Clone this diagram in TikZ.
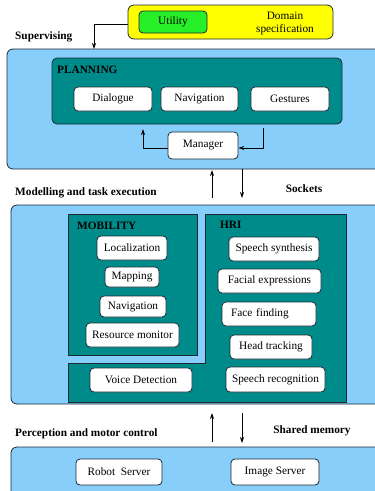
\documentclass[tikz,border=0pt]{standalone}
\usepackage{fontspec}
\setmainfont{Liberation Serif}
\usetikzlibrary{arrows.meta}
\definecolor{lblue}{RGB}{135,206,250}
\definecolor{teal2}{RGB}{0,139,139}
\definecolor{ylw}{RGB}{255,255,0}
\definecolor{grn}{RGB}{40,240,40}
\definecolor{edge}{RGB}{30,40,50}
\begin{document}
\begin{tikzpicture}[x=1pt,y=-1pt,
  every node/.style={font=\fontsize{11.3}{13}\selectfont},
  panel/.style={draw=edge,fill=lblue,rounded corners=6pt,line width=0.8pt},
  group/.style={draw=edge,fill=teal2,line width=0.8pt},
  modbox/.style={draw=edge,fill=white,rounded corners=4pt,line width=0.8pt,inner sep=0pt,align=center},
  lbl/.style={font=\fontsize{11.3}{13}\selectfont\bfseries,anchor=west,inner sep=0pt},
  arr/.style={-{Stealth[length=6pt,width=4pt]},line width=0.8pt}]
\useasboundingbox (0,0) rectangle (375,491);
\clip (0,0) rectangle (375,491);
% top: domain
\draw[draw=edge,fill=ylw,rounded corners=6pt,line width=0.8pt] (128,5) rectangle (333,39);
\node[modbox,fill=grn,minimum width=68pt,minimum height=22pt] (util) at (173,22) {Utility};
\node[inner sep=0pt,align=center] (dom) at (285,23) {Domain\\specification};
\coordinate (domw) at (128,24);
% supervising panel
\draw[panel] (7,49) rectangle (382,169);
\node[lbl] (sup) at (15,37) {Supervising};
\coordinate (supin) at (94,49);
\draw[arr] (domw) -- (94,24) -- (supin);
\draw[group,rounded corners=5pt] (52,58) rectangle (342,124);
\node[lbl] (plan) at (57,70) {PLANNING};
\node[modbox,minimum width=78pt,minimum height=24pt] (dia) at (113,99) {Dialogue};
\node[modbox,minimum width=77pt,minimum height=24pt] (nav) at (199.5,99) {Navigation};
\node[modbox,minimum width=78pt,minimum height=24pt] (ges) at (290,99) {Gestures};
\node[modbox,minimum width=70pt,minimum height=27pt] (man) at (203,145.5) {Manager};
\coordinate (pl2) at (263,128);
\draw[arr] (man.west |- 0,148) -- (143,148) -- (143,129);
\draw[arr] (pl2) -- (263,148) -- (man.east |- 0,148);
% sockets
\node[lbl] (mod) at (15,193) {Modelling and task execution};
\node[font=\fontsize{11.3}{13}\selectfont\bfseries,inner sep=0pt] (sock) at (304,189) {Sockets};
\coordinate (s1a) at (212,198);
\coordinate (s1b) at (212,170);
\coordinate (s2a) at (242,169);
\coordinate (s2b) at (242,198);
\draw[arr] (s1a) -- (s1b);
\draw[arr] (s2a) -- (s2b);
% modelling panel
\draw[panel] (11,205) rectangle (382,404);
\draw[group] (68,214) rectangle (197,355);
\draw[group] (68,363) -- (205,363) -- (205,214) -- (346,214) -- (346,402) -- (68,402) -- cycle;
\node[lbl] (mob) at (77,226) {MOBILITY};
\node[lbl] (hri) at (220,225) {HRI};
\node[modbox,minimum width=70pt,minimum height=24pt] (loc) at (132,248) {Localization};
\node[modbox,minimum width=54pt,minimum height=20pt] (map) at (132,277) {Mapping};
\node[modbox,minimum width=66pt,minimum height=21pt] (mnav) at (133,306.5) {Navigation};
\node[modbox,minimum width=93pt,minimum height=24pt] (res) at (132.5,335) {Resource monitor};
\node[modbox,minimum width=102pt,minimum height=24pt] (voice) at (141,380) {Voice Detection};
\node[modbox,minimum width=90pt,minimum height=24pt] (ss) at (274,249) {Speech synthesis};
\node[modbox,minimum width=103pt,minimum height=24pt] (fe) at (269.5,281) {Facial expressions};
\node[modbox,minimum width=94pt,minimum height=24pt,align=left,text width=76pt,inner xsep=9pt] (ff) at (269,314) {Face finding};
\node[modbox,minimum width=82pt,minimum height=24pt] (ht) at (271,347) {Head tracking};
\node[modbox,minimum width=99pt,minimum height=25pt] (sr) at (275.5,379.5) {Speech recognition};
% shared memory
\node[lbl] (perc) at (15,434) {Perception and motor control};
\node[font=\fontsize{11.3}{13}\selectfont\bfseries,inner sep=0pt] (shm) at (312,431) {Shared memory};
\coordinate (m1a) at (212,442);
\coordinate (m1b) at (212,413);
\coordinate (m2a) at (242,413);
\coordinate (m2b) at (242,443);
\draw[arr] (m1a) -- (m1b);
\draw[arr] (m2a) -- (m2b);
% perception panel
\draw[panel] (11,447) rectangle (382,520);
\node[modbox,minimum width=86pt,minimum height=26pt] (rob) at (119,472) {Robot\ \ Server};
\node[modbox,minimum width=88pt,minimum height=26pt] (img) at (275,472) {Image Server};
\end{tikzpicture}
\end{document}
